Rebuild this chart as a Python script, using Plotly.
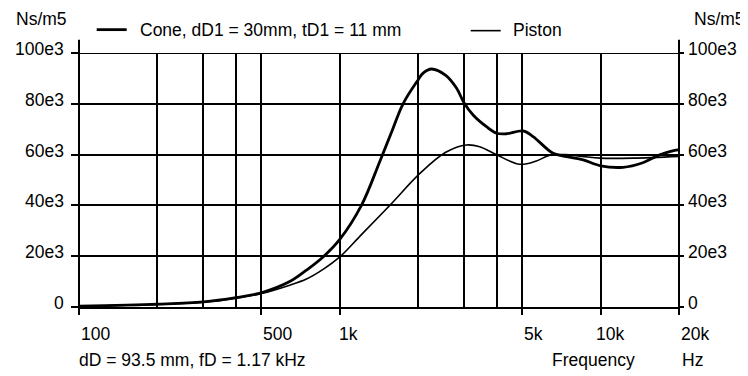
import math
import plotly.graph_objects as go

# ---------------- data ----------------
cone_freq = [100, 200, 300, 400, 500, 643, 745, 863, 1000, 1211, 1423, 1578, 1749, 2000,
             2088, 2248, 2550, 2803, 3000, 3246, 3653, 4000, 4360, 5049, 5514, 6580,
             7410, 8580, 10000, 12200, 14530, 16870, 19580, 20000]
cone_val = [0.3, 1.1, 2.0, 3.7, 5.6, 10.0, 14.5, 19.7, 26.6, 40.0, 57.2, 68.7, 80.0, 89.5,
            92.1, 93.7, 91.2, 86.2, 80.3, 75.6, 71.0, 68.4, 68.2, 69.3, 67.1, 60.5,
            59.2, 57.9, 55.6, 55.0, 56.8, 59.9, 61.8, 62.0]

piston_freq = [100, 200, 300, 400, 500, 643, 745, 863, 1000, 1211, 1555, 2030, 2550, 3062,
               3443, 4000, 4900, 5680, 6400, 7300, 8500, 10000, 13300, 20000]
piston_val = [0.3, 1.0, 1.9, 3.5, 5.3, 8.6, 11.0, 14.8, 19.7, 28.5, 40.0, 52.6, 60.9, 63.8,
              63.1, 59.9, 56.2, 57.5, 59.8, 60.0, 59.3, 58.6, 58.6, 59.3]

x_label_freqs = [100, 500, 1000, 5000, 10000, 20000]
x_label_text = ["100", "500", "1k", "5k", "10k", "20k"]
x_minor_grid = [200, 300, 400, 2000, 3000, 4000]
y_ticks = [0, 20e3, 40e3, 60e3, 80e3, 100e3]
y_tick_text = ["0", "20e3", "40e3", "60e3", "80e3", "100e3"]

cone_name = "Cone, dD1 = 30mm, tD1 = 11 mm"
piston_name = "Piston"

# ---------------- layout constants ----------------
W, H = 748, 376
OFF = 8  # page body margin that shifts the figure in the browser
# target plot box in page pixels
PL, PR, PT, PB = 79.3, 679.3, 53.3, 306.7
ML, MT = PL - OFF, PT - OFF
MR, MB = W - (PR - OFF), H - (PB - OFF)
PH = PB - PT
PW = PR - PL
FONT = "Liberation Sans, Arial, sans-serif"
FS = 17.5
CONE_W, PISTON_W = 2.8, 1.6


def py(p):  # page pixel y -> paper y
    return (PB - p) / PH


def px(p):  # page pixel x -> paper x
    return (p - PL) / PW


fig = go.Figure()
fig.add_trace(go.Scatter(x=cone_freq, y=[v * 1000 for v in cone_val], name=cone_name,
                         mode="lines", line=dict(color="black", width=CONE_W, shape="spline", smoothing=1.0)))
fig.add_trace(go.Scatter(x=piston_freq, y=[v * 1000 for v in piston_val], name=piston_name,
                         mode="lines", line=dict(color="black", width=PISTON_W, shape="spline", smoothing=1.0)))
# empty helper trace so the right-hand tick axis is drawn
fig.add_trace(go.Scatter(x=[], y=[], yaxis="y2", showlegend=False, hoverinfo="skip"))

fig.update_xaxes(type="log", range=[2, math.log10(20000)], tickvals=x_label_freqs,
                 showticklabels=False, ticks="outside", ticklen=6, tickwidth=2, tickcolor="black",
                 showgrid=True, gridcolor="black", gridwidth=2,
                 minor=dict(tickvals=x_minor_grid, showgrid=True, gridcolor="black", gridwidth=2, ticks=""),
                 showline=True, linecolor="black", linewidth=2, zeroline=False)
fig.update_yaxes(range=[0, 100e3], tickvals=y_ticks, showticklabels=False, ticks="outside",
                 ticklen=7, tickwidth=2, tickcolor="black", showgrid=True, gridcolor="black",
                 gridwidth=2, showline=False, zeroline=False)

shapes = []
for xp in (0, 1):
    shapes.append(dict(type="line", xref="paper", yref="paper", x0=xp, x1=xp,
                       y0=py(312.7), y1=py(40), line=dict(color="black", width=2)))
shapes.append(dict(type="line", xref="paper", yref="y", x0=0, x1=1, y0=100e3, y1=100e3,
                   line=dict(color="black", width=2)))
# legend swatches
shapes.append(dict(type="line", xref="paper", yref="paper", x0=px(97), x1=px(127),
                   y0=py(30), y1=py(30), line=dict(color="black", width=CONE_W)))
shapes.append(dict(type="line", xref="paper", yref="paper", x0=px(471), x1=px(501),
                   y0=py(31), y1=py(31), line=dict(color="black", width=PISTON_W)))

ann = []
for v, t in zip(y_ticks, y_tick_text):
    ann.append(dict(x=0, xref="paper", y=v, yref="y", text=t, showarrow=False,
                    xanchor="right", yanchor="middle", xshift=-13, yshift=4))
    ann.append(dict(x=1, xref="paper", y=v, yref="y", text=t, showarrow=False,
                    xanchor="left", yanchor="middle", xshift=6.5, yshift=4))
label_shift = {"1k": -3, "10k": -7}
for f, t in zip(x_label_freqs, x_label_text):
    ann.append(dict(x=math.log10(f), xref="x", y=py(334), yref="paper", text=t, showarrow=False,
                    xanchor="left", yanchor="middle", xshift=label_shift.get(t, 0)))
ann.append(dict(x=px(14), xref="paper", y=py(19.5), yref="paper", text="Ns/m5", showarrow=False,
                xanchor="left", yanchor="middle"))
ann.append(dict(x=px(692), xref="paper", y=py(19.5), yref="paper", text="Ns/m5", showarrow=False,
                xanchor="left", yanchor="middle"))
ann.append(dict(x=px(138), xref="paper", y=py(30.3), yref="paper", text=cone_name, showarrow=False,
                xanchor="left", yanchor="middle"))
ann.append(dict(x=px(511), xref="paper", y=py(30.8), yref="paper", text=piston_name, showarrow=False,
                xanchor="left", yanchor="middle"))
ann.append(dict(x=px(77), xref="paper", y=py(359.5), yref="paper", text="dD = 93.5 mm, fD = 1.17 kHz",
                showarrow=False, xanchor="left", yanchor="middle"))
ann.append(dict(x=px(550), xref="paper", y=py(359.5), yref="paper", text="Frequency",
                showarrow=False, xanchor="left", yanchor="middle"))
ann.append(dict(x=px(680), xref="paper", y=py(359.5), yref="paper", text="Hz",
                showarrow=False, xanchor="left", yanchor="middle"))

fig.update_layout(
    width=W, height=H, margin=dict(l=ML, r=MR, t=MT, b=MB, pad=0, autoexpand=False),
    paper_bgcolor="white", plot_bgcolor="white",
    font=dict(family=FONT, size=FS, color="black"),
    showlegend=False,
    yaxis2=dict(overlaying="y", side="right", anchor="x", range=[0, 100e3], tickvals=y_ticks,
                showticklabels=False, ticks="outside", ticklen=3.5, tickwidth=2, tickcolor="black",
                showgrid=False, showline=False, zeroline=False),
    shapes=shapes, annotations=ann,
)

fig.write_html("out.html")
